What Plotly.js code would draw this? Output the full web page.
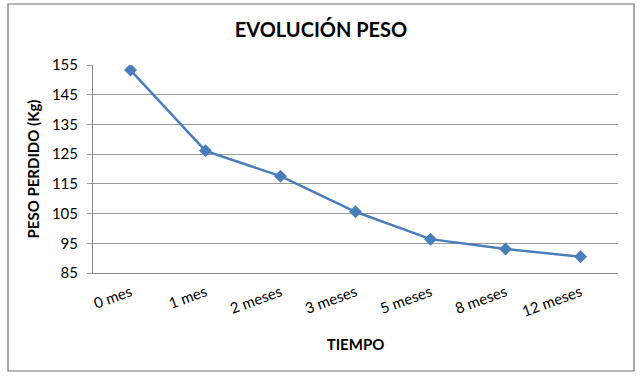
<!DOCTYPE html>
<html>
<head>
<meta charset="utf-8">
<script src="https://cdn.plot.ly/plotly-3.0.1.min.js"></script>
<style>
  html, body { margin: 0; padding: 0; background: #ffffff; }
  #chart { width: 642px; height: 376px; }
</style>
</head>
<body>
<div id="chart"></div>
<script>
const categories = ["0 mes", "1 mes", "2 meses", "3 meses", "5 meses", "8 meses", "12 meses"];
const peso = [153.3, 126.1, 117.6, 105.6, 96.4, 93.1, 90.5];
const yTicks = [85, 95, 105, 115, 125, 135, 145, 155];

const FONT = "Lato, 'Open Sans', 'Liberation Sans', sans-serif";

const trace = {
  type: "scatter",
  mode: "lines+markers",
  x: categories,
  y: peso,
  line: { color: "#4a7ebb", width: 2.5 },
  marker: { symbol: "diamond", size: 10, color: "#4a7ebb" },
  hoverinfo: "x+y"
};

const layout = {
  width: 642,
  height: 376,
  margin: { l: 93, r: 24, t: 65, b: 103 },
  paper_bgcolor: "#ffffff",
  plot_bgcolor: "#ffffff",
  showlegend: false,
  font: { family: FONT, color: "#000000", size: 15 },
  title: {
    text: "<b>EVOLUCIÓN PESO</b>",
    font: { family: FONT, size: 20, color: "#000000" },
    x: 0.5, xanchor: "center",
    y: 1 - 30 / 376, yanchor: "middle"
  },
  xaxis: {
    type: "category",
    range: [-0.5, 6.5],
    showgrid: false,
    showline: true,
    linecolor: "#888888",
    linewidth: 1,
    ticks: "",
    tickangle: -20,
    ticklabelstandoff: 4,
    tickfont: { family: FONT, size: 15, color: "#000000" },
    title: {
      text: "<b>TIEMPO</b>",
      font: { family: FONT, size: 15, color: "#000000" },
      standoff: 20
    },
    zeroline: false,
    fixedrange: true
  },
  yaxis: {
    range: [85, 155],
    tickvals: yTicks,
    ticktext: yTicks.map(String),
    showgrid: true,
    gridcolor: "#9a9a9a",
    gridwidth: 1,
    showline: true,
    linecolor: "#888888",
    linewidth: 1,
    ticks: "outside",
    ticklen: 5,
    tickcolor: "#9a9a9a",
    ticklabelstandoff: 6,
    tickfont: { family: FONT, size: 15, color: "#000000" },
    title: {
      text: "<b>PESO PERDIDO (Kg)</b>",
      font: { family: FONT, size: 15, color: "#000000" },
      standoff: 8
    },
    zeroline: false,
    fixedrange: true
  },
  shapes: [{
    type: "rect",
    xref: "paper", yref: "paper",
    x0: (8 - 93) / 525, x1: (634 - 93) / 525,
    y0: (273 - 371) / 208, y1: (273 - 4) / 208,
    line: { color: "#707070", width: 1.2 },
    fillcolor: "rgba(0,0,0,0)",
    layer: "below"
  }]
};

Plotly.newPlot("chart", [trace], layout, { displayModeBar: false, staticPlot: false });
</script>
</body>
</html>
